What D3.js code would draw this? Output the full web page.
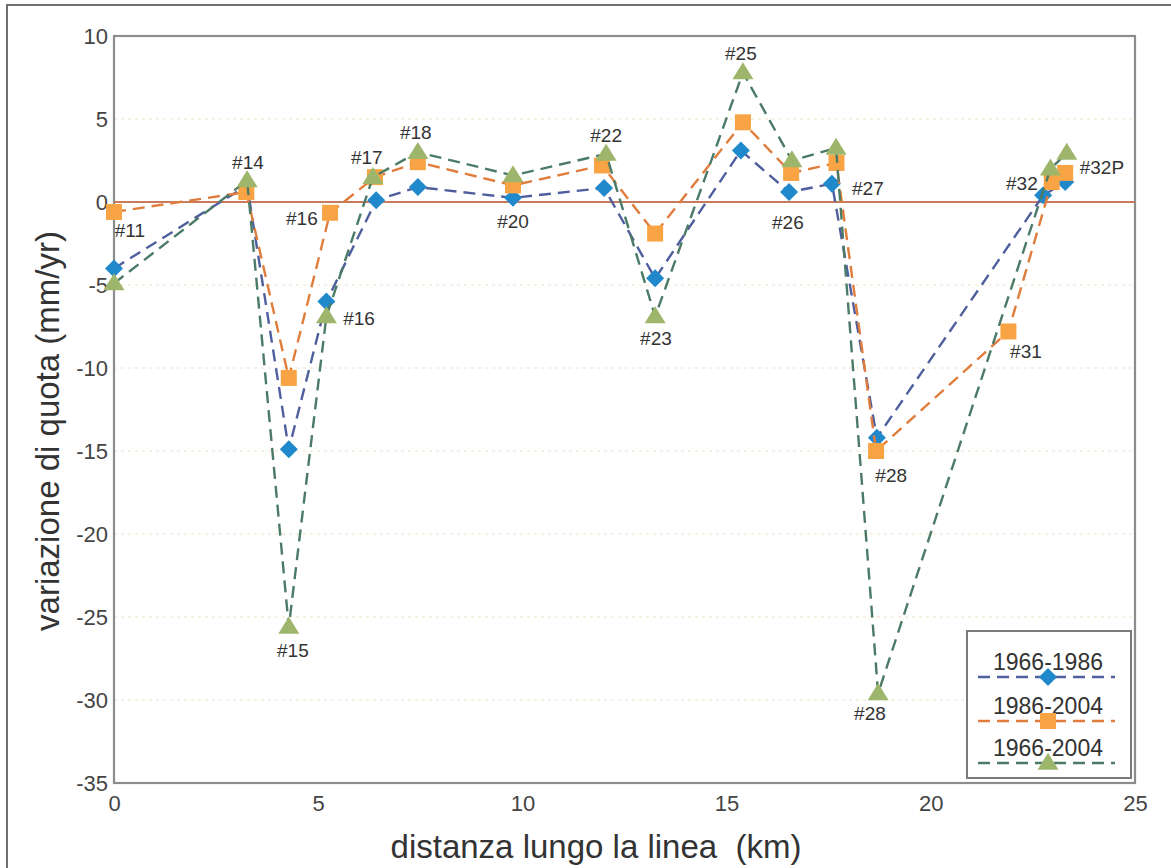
<!DOCTYPE html>
<html>
<head>
<meta charset="utf-8">
<script src="https://cdn.jsdelivr.net/npm/d3@7"></script>
<style>
  html, body { margin: 0; padding: 0; background: #fff; }
  svg { display: block; font-family: "Liberation Sans", Arial, Helvetica, sans-serif; }
</style>
</head>
<body>
<svg id="chart" width="1171" height="868"></svg>
<script>
// ---------- data ----------
const xTicks = [0, 5, 10, 15, 20, 25];
const yTicks = [10, 5, 0, -5, -10, -15, -20, -25, -30, -35];

const series1Name = "1966-1986";
const series1X = [0, 3.26, 4.28, 5.2, 6.42, 7.44, 9.77, 12.0, 13.25, 15.35, 16.53, 17.58, 18.68, 22.75, 23.29];
const series1Y = [-4.0, 1.0, -14.9, -6.0, 0.1, 0.9, 0.25, 0.85, -4.6, 3.1, 0.6, 1.1, -14.2, 0.4, 1.2];

const series2Name = "1986-2004";
const series2X = [0, 3.24, 4.28, 5.29, 6.39, 7.44, 9.77, 11.95, 13.25, 15.4, 16.58, 17.69, 18.66, 21.9, 22.96, 23.29];
const series2Y = [-0.6, 0.6, -10.6, -0.65, 1.5, 2.4, 1.0, 2.2, -1.9, 4.8, 1.75, 2.35, -15.0, -7.8, 1.2, 1.75];

const series3Name = "1966-2004";
const series3X = [0, 3.26, 4.28, 5.2, 6.34, 7.44, 9.77, 12.05, 13.25, 15.4, 16.6, 17.68, 18.71, 22.93, 23.33];
const series3Y = [-4.9, 1.3, -25.6, -6.9, 1.5, 3.0, 1.6, 2.9, -6.9, 7.8, 2.5, 3.25, -29.6, 2.0, 2.95];

const labelTexts = ["#11", "#14", "#16", "#17", "#18", "#20", "#22", "#25", "#23", "#26", "#27", "#16", "#15", "#28", "#28", "#31", "#32", "#32P"];
const labelX = [0.39, 3.28, 4.6, 6.19, 7.39, 9.77, 12.05, 15.35, 13.27, 16.5, 18.46, 6.0, 4.38, 19.03, 18.51, 22.33, 22.23, 24.19];
const labelY = [-1.69, 2.41, -0.96, 2.71, 4.22, -1.14, 4.04, 8.98, -8.19, -1.2, 0.84, -6.99, -26.99, -16.45, -30.78, -8.98, 1.14, 2.11];

// ---------- layout ----------
const svg = d3.select("#chart");
const pLeft = 114, pRight = 1135, pTop = 36, pBottom = 783;
const x = d3.scaleLinear().domain([0, 25]).range([pLeft, pRight]);
const y = d3.scaleLinear().domain([-35, 10]).range([pBottom, pTop]);

// outer frame
svg.append("rect").attr("x", 7).attr("y", 5).attr("width", 1200).attr("height", 900)
  .attr("fill", "none").attr("stroke", "#6f6f6f").attr("stroke-width", 2);

// grid lines
svg.append("g").selectAll("line").data(yTicks.filter(d => d !== 10 && d !== 0 && d !== -35)).join("line")
  .attr("x1", pLeft).attr("x2", pRight).attr("y1", d => y(d)).attr("y2", d => y(d))
  .attr("stroke", "#eee2c4").attr("stroke-width", 1).attr("stroke-dasharray", "3,4");

// plot frame
svg.append("rect").attr("x", pLeft).attr("y", pTop).attr("width", pRight - pLeft).attr("height", pBottom - pTop)
  .attr("fill", "none").attr("stroke", "#8c8c8c").attr("stroke-width", 2.2);

// zero line
svg.append("line").attr("x1", pLeft).attr("x2", pRight).attr("y1", y(0)).attr("y2", y(0))
  .attr("stroke", "#c77a5c").attr("stroke-width", 2);

// axes
const yAxis = d3.axisLeft(y).tickValues(yTicks).tickSize(0).tickPadding(6).tickFormat(d => String(d));
const gy = svg.append("g").attr("transform", `translate(${pLeft},0)`).call(yAxis);
gy.select(".domain").remove();
gy.selectAll("text").attr("font-size", 22).attr("fill", "#444").attr("font-family", "Liberation Sans, Arial, sans-serif");

const xAxis = d3.axisBottom(x).tickValues(xTicks).tickSize(0).tickPadding(12).tickFormat(d => String(d));
const gx = svg.append("g").attr("transform", `translate(0,${pBottom})`).call(xAxis);
gx.select(".domain").remove();
gx.selectAll("text").attr("font-size", 22).attr("fill", "#444").attr("font-family", "Liberation Sans, Arial, sans-serif");

// axis titles
svg.append("text").attr("x", 596).attr("y", 858).attr("text-anchor", "middle")
  .attr("font-size", 33).attr("fill", "#333").text("distanza lungo la linea\u00a0\u00a0(km)");
svg.append("text").attr("transform", "translate(59,431) rotate(-90)").attr("text-anchor", "middle")
  .attr("font-size", 33).attr("fill", "#333").text("variazione di quota (mm/yr)");

// marker shapes
function diamondPath(cx, cy) { const r = 9; return `M${cx},${cy - r}L${cx + r},${cy}L${cx},${cy + r}L${cx - r},${cy}Z`; }
function squarePath(cx, cy) { const r = 8; return `M${cx - r},${cy - r}H${cx + r}V${cy + r}H${cx - r}Z`; }
function trianglePath(cx, cy) { const w = 10.5, h = 17; return `M${cx},${cy - h * 0.6}L${cx + w},${cy + h * 0.4}L${cx - w},${cy + h * 0.4}Z`; }

const seriesList = [
  { name: series1Name, xs: series1X, ys: series1Y, line: "#4f5f9d", fill: "#1f89cc", shape: diamondPath },
  { name: series2Name, xs: series2X, ys: series2Y, line: "#e07d3c", fill: "#f8a445", shape: squarePath },
  { name: series3Name, xs: series3X, ys: series3Y, line: "#4b7a67", fill: "#9db66c", shape: trianglePath }
];

const lineGen = d3.line().x(d => x(d[0])).y(d => y(d[1]));
seriesList.forEach(s => {
  const pts = s.xs.map((v, i) => [v, s.ys[i]]);
  svg.append("path").datum(pts).attr("d", lineGen).attr("fill", "none")
    .attr("stroke", s.line).attr("stroke-width", 2.4).attr("stroke-dasharray", "12,7");
  svg.append("g").selectAll("path").data(pts).join("path")
    .attr("d", d => s.shape(x(d[0]), y(d[1]))).attr("fill", s.fill);
});

// point labels
svg.append("g").selectAll("text").data(labelTexts).join("text")
  .attr("x", (d, i) => x(labelX[i])).attr("y", (d, i) => y(labelY[i]))
  .attr("dy", "0.35em").attr("text-anchor", "middle")
  .attr("font-size", 19).attr("fill", "#333").text(d => d);

// legend
const lg = svg.append("g");
lg.append("rect").attr("x", 967).attr("y", 631).attr("width", 164).attr("height", 147)
  .attr("fill", "#fff").attr("stroke", "#7a7a7a").attr("stroke-width", 2);
const legendRowY = [677, 721, 763];
seriesList.forEach((s, i) => {
  const ly = legendRowY[i];
  lg.append("line").attr("x1", 978).attr("x2", 1115).attr("y1", ly).attr("y2", ly)
    .attr("stroke", s.line).attr("stroke-width", 2.4).attr("stroke-dasharray", "12,7");
  lg.append("text").attr("x", 1048).attr("y", ly - 7).attr("text-anchor", "middle")
    .attr("font-size", 23).attr("fill", "#333").text(s.name);
  lg.append("path").attr("d", s.shape(1048, ly)).attr("fill", s.fill);
});
</script>
</body>
</html>
